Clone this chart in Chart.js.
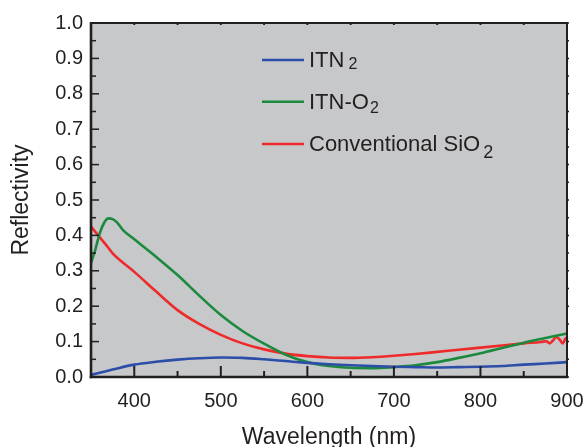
<!DOCTYPE html>
<html>
<head>
<meta charset="utf-8">
<script src="https://cdn.jsdelivr.net/npm/chart.js@4/dist/chart.umd.min.js"></script>
<style>
  html, body { margin: 0; padding: 0; background: #ffffff; }
  #wrap { width: 587px; height: 447px; }
</style>
</head>
<body>
<div id="wrap"><canvas id="c" width="587" height="447"></canvas></div>
<script>
// Reflectivity spectra (wavelength in nm, reflectivity 0..1)
const itnWl  = [350, 360, 375, 400, 425, 450, 475, 500, 525, 550, 575, 600, 625, 650, 675, 700, 725, 750, 775, 800, 825, 850, 875, 900];
const itnR   = [0.006, 0.012, 0.021, 0.035, 0.043, 0.049, 0.053, 0.055, 0.054, 0.050, 0.045, 0.040, 0.036, 0.033, 0.031, 0.029, 0.028, 0.027, 0.028, 0.029, 0.031, 0.035, 0.038, 0.042];

const itnO2Wl = [350, 355, 360, 365, 370, 375, 380, 387, 400, 425, 450, 475, 500, 525, 550, 575, 600, 625, 650, 675, 700, 725, 750, 775, 800, 825, 850, 875, 900];
const itnO2R  = [0.322, 0.360, 0.405, 0.435, 0.448, 0.446, 0.437, 0.415, 0.389, 0.340, 0.288, 0.230, 0.175, 0.130, 0.094, 0.063, 0.042, 0.031, 0.026, 0.025, 0.028, 0.033, 0.042, 0.054, 0.067, 0.082, 0.097, 0.110, 0.123];

const sio2Wl = [350, 360, 370, 375, 385, 400, 425, 450, 475, 500, 525, 550, 575, 600, 625, 650, 675, 700, 725, 750, 775, 800, 825, 850, 870, 876, 880, 884, 888, 892, 895, 898, 900];
const sio2R  = [0.425, 0.395, 0.365, 0.349, 0.327, 0.297, 0.242, 0.189, 0.150, 0.119, 0.095, 0.078, 0.066, 0.059, 0.055, 0.054, 0.056, 0.060, 0.065, 0.071, 0.077, 0.083, 0.089, 0.095, 0.099, 0.101, 0.095, 0.104, 0.113, 0.104, 0.095, 0.108, 0.112];

// Legend text: main part and subscript part
const legendMain = ['ITN', 'ITN-O', 'Conventional SiO'];
const legendSub  = ['2', '2', '2'];

// Axis ticks
const xTickValues  = [400, 500, 600, 700, 800, 900];
const xMinorValues = [450, 550, 650, 750, 850];
const yTickValues  = [0, 0.1, 0.2, 0.3, 0.4, 0.5, 0.6, 0.7, 0.8, 0.9, 1.0];
const yMinorValues = [0.05, 0.15, 0.25, 0.35, 0.45, 0.55, 0.65, 0.75, 0.85, 0.95];

const INK = '#231f20';
const FONT = '"Liberation Sans", Arial, Helvetica, sans-serif';
const COLORS = ['#2d4ea8', '#1b8a3d', '#ee2a2a'];

const pairs = (xs, ys) => xs.map((x, i) => ({ x: x, y: ys[i] }));

// Gray plot background
const plotBackground = {
  id: 'plotBackground',
  beforeDatasetsDraw(chart) {
    const { ctx, chartArea: a } = chart;
    ctx.save();
    ctx.fillStyle = '#c7c8ca';
    ctx.fillRect(a.left, a.top, a.right - a.left, a.bottom - a.top);
    ctx.restore();
  }
};

// Boxed frame with inward ticks
const frameTicks = {
  id: 'frameTicks',
  afterDatasetsDraw(chart) {
    const { ctx, chartArea: a, scales } = chart;
    const xs = scales.x, ys = scales.y;
    ctx.save();
    ctx.strokeStyle = INK;
    ctx.lineCap = 'butt';

    const seg = (x1, y1, x2, y2) => { ctx.beginPath(); ctx.moveTo(x1, y1); ctx.lineTo(x2, y2); ctx.stroke(); };
    ctx.lineWidth = 2;
    xTickValues.forEach(v => { const p = xs.getPixelForValue(v); seg(p, a.bottom, p, a.bottom - 11); seg(p, a.top, p, a.top + 2); });
    xMinorValues.forEach(v => { const p = xs.getPixelForValue(v); seg(p, a.bottom, p, a.bottom - 6); seg(p, a.top, p, a.top + 2); });
    ctx.lineWidth = 1.5;
    yTickValues.forEach(v => { const p = ys.getPixelForValue(v); seg(a.left, p, a.left + 8, p); seg(a.right, p, a.right + 2, p); });
    yMinorValues.forEach(v => { const p = ys.getPixelForValue(v); seg(a.left, p, a.left + 5, p); seg(a.right, p, a.right + 2, p); });

    ctx.lineWidth = 2;
    seg(a.left - 1, a.top, a.right + 1, a.top);
    seg(a.right, a.top, a.right, a.bottom + 1);
    ctx.lineWidth = 2.6;
    seg(a.left, a.top - 1, a.left, a.bottom + 1.3);
    seg(a.left - 1.3, a.bottom, a.right + 1, a.bottom);
    ctx.restore();
  }
};

// Legend with subscripts
const subLegend = {
  id: 'subLegend',
  afterDraw(chart) {
    const { ctx } = chart;
    const rows = [60, 101.7, 144];
    const subSize = [16, 16, 18];
    const subDrop = [2, 4, 7];
    const subGap = [4, 1, 3];
    ctx.save();
    chart.data.datasets.forEach((ds, i) => {
      const y = rows[i];
      ctx.strokeStyle = ds.borderColor;
      ctx.lineWidth = 2.5;
      ctx.beginPath(); ctx.moveTo(262, y); ctx.lineTo(304, y); ctx.stroke();
      ctx.fillStyle = INK;
      ctx.textBaseline = 'alphabetic';
      ctx.textAlign = 'left';
      ctx.font = '22px ' + FONT;
      ctx.fillText(legendMain[i], 309, y + 7);
      const w = ctx.measureText(legendMain[i]).width;
      ctx.font = subSize[i] + 'px ' + FONT;
      ctx.fillText(legendSub[i], 309 + w + subGap[i], y + 7 + subDrop[i]);
    });
    ctx.restore();
  }
};

new Chart(document.getElementById('c'), {
  type: 'line',
  data: {
    datasets: [
      { label: legendMain[0] + legendSub[0], data: pairs(itnWl, itnR), borderColor: COLORS[0] },
      { label: legendMain[1] + legendSub[1], data: pairs(itnO2Wl, itnO2R), borderColor: COLORS[1] },
      { label: legendMain[2] + legendSub[2], data: pairs(sio2Wl, sio2R), borderColor: COLORS[2] }
    ]
  },
  options: {
    responsive: false,
    animation: false,
    devicePixelRatio: 1,
    layout: { padding: { top: 23, right: 20, left: 0, bottom: 0 } },
    plugins: { legend: { display: false }, tooltip: { enabled: false } },
    elements: {
      point: { radius: 0 },
      line: { borderWidth: 2.6, cubicInterpolationMode: 'monotone', fill: false }
    },
    scales: {
      x: {
        type: 'linear', min: 350, max: 900,
        afterBuildTicks(s) { s.ticks = xTickValues.map(v => ({ value: v })); },
        afterFit(s) { s.height = 70; s.paddingLeft = 0; s.paddingRight = 0; },
        grid: { display: false, drawTicks: false },
        border: { display: false },
        ticks: { font: { family: FONT, size: 20 }, color: INK, padding: 12, maxRotation: 0, autoSkip: false },
        title: { display: true, text: 'Wavelength (nm)', color: INK, font: { family: FONT, size: 23, lineHeight: 1 }, padding: { top: 0, bottom: -2 } }
      },
      y: {
        type: 'linear', min: 0, max: 1,
        afterBuildTicks(s) { s.ticks = yTickValues.map(v => ({ value: v })); },
        afterFit(s) { s.width = 91; s.paddingTop = 0; s.paddingBottom = 0; },
        grid: { display: false, drawTicks: false },
        border: { display: false },
        ticks: { font: { family: FONT, size: 20 }, color: INK, padding: 8, autoSkip: false, callback: v => Number(v).toFixed(1) },
        title: { display: true, text: 'Reflectivity', color: INK, font: { family: FONT, size: 23, lineHeight: 1 }, padding: { top: 10, bottom: 0 } }
      }
    }
  },
  plugins: [plotBackground, frameTicks, subLegend]
});
</script>
</body>
</html>
